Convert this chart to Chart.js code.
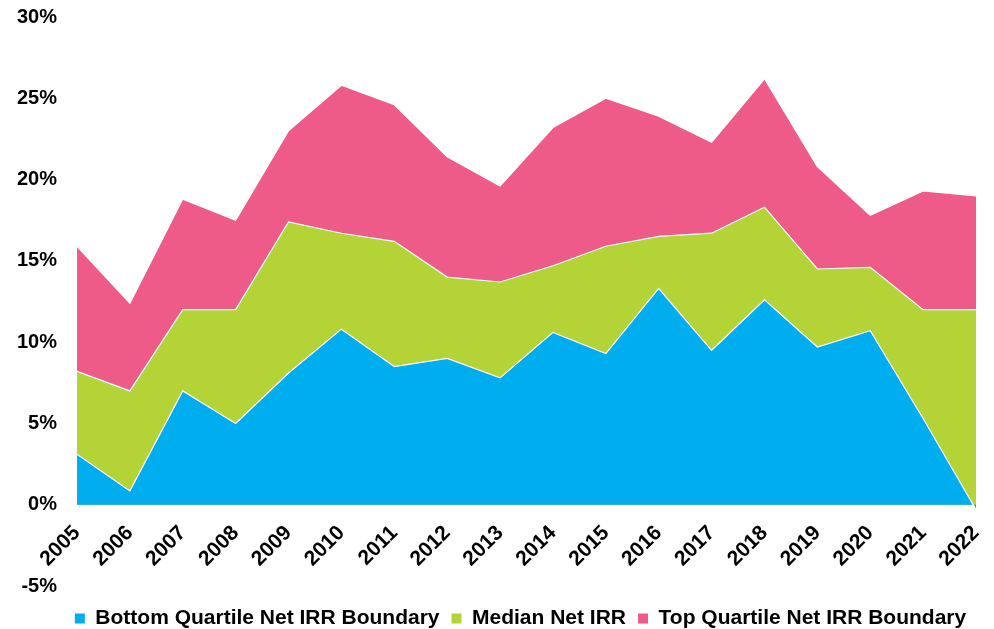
<!DOCTYPE html>
<html>
<head>
<meta charset="utf-8">
<script src="https://cdn.jsdelivr.net/npm/chart.js@4"></script>
<style>
  html, body { margin: 0; padding: 0; background: #fff; }
  #wrap { width: 994px; height: 629px; }
</style>
</head>
<body>
<div id="wrap"><canvas id="chart-irr"></canvas></div>
<script>
// ── Data ──────────────────────────────────────────────────────────────────
const VINTAGES = ['2005','2006','2007','2008','2009','2010','2011','2012','2013',
                  '2014','2015','2016','2017','2018','2019','2020','2021','2022'];

const BOTTOM_QUARTILE = [3.1, 0.85, 7.0, 5.0, 8.1, 10.8, 8.5, 9.0, 7.8,
                         10.6, 9.3, 13.3, 9.5, 12.6, 9.7, 10.7, 5.3, -0.3];
const MEDIAN_IRR      = [8.2, 7.0, 12.0, 12.0, 17.4, 16.7, 16.2, 14.0, 13.7,
                         14.7, 15.9, 16.5, 16.7, 18.3, 14.5, 14.6, 12.0, 12.0];
const TOP_QUARTILE    = [15.9, 12.4, 18.8, 17.5, 23.0, 25.8, 24.6, 21.4, 19.6,
                         23.2, 25.0, 23.9, 22.3, 26.2, 20.8, 17.8, 19.3, 19.0];

const Y_TICKS = [-5, 0, 5, 10, 15, 20, 25, 30];

// ── Theme ─────────────────────────────────────────────────────────────────
const BLUE  = '#00aeef';
const GREEN = '#b3d336';
const PINK  = '#ef5b89';
const FONT  = 'Arial, "Liberation Sans", sans-serif';

function area(label, data, color) {
  return {
    label,
    data,
    backgroundColor: color,
    borderColor: '#ffffff',
    borderWidth: 1.2,
    fill: 'origin',
    tension: 0,
    pointRadius: 0,
    pointHoverRadius: 0,
  };
}

// Legend sits a little lower than Chart.js puts it, centred under the plot
const legendNudge = {
  id: 'legendNudge',
  afterLayout(chart) {
    const lg = chart.legend;
    if (!lg) return;
    const dy = 10;
    const dx = (chart.chartArea.left + chart.chartArea.right) / 2 - (lg.left + lg.right) / 2 - 6;
    lg.top += dy; lg.bottom += dy;
    lg.left += dx; lg.right += dx;
  }
};

// ── Chart ─────────────────────────────────────────────────────────────────
new Chart(document.getElementById('chart-irr').getContext('2d'), {
  type: 'line',
  data: {
    labels: VINTAGES,
    datasets: [
      area('Bottom Quartile Net IRR Boundary', BOTTOM_QUARTILE, BLUE),
      area('Median Net IRR', MEDIAN_IRR, GREEN),
      area('Top Quartile Net IRR Boundary', TOP_QUARTILE, PINK),
    ]
  },
  plugins: [legendNudge],
  options: {
    responsive: true,
    maintainAspectRatio: false,
    animation: false,
    layout: { padding: { top: 17, right: 18, left: 0, bottom: 0 } },
    plugins: {
      tooltip: { enabled: false },
      legend: {
        position: 'bottom',
        labels: {
          boxWidth: 10,
          boxHeight: 10,
          padding: 12,
          color: '#000',
          font: { family: FONT, size: 21, weight: 'bold' },
          generateLabels: chart => chart.data.datasets.map((ds, i) => ({
            text: ds.label,
            fillStyle: ds.backgroundColor,
            strokeStyle: ds.backgroundColor,
            lineWidth: 0,
            datasetIndex: i,
            hidden: false,
          })),
        }
      }
    },
    scales: {
      x: {
        position: { y: 0 },
        offset: false,
        grid: { display: false, drawTicks: false },
        border: { display: false },
        afterFit: s => { s.paddingLeft = 0; s.paddingRight = 0; },
        ticks: {
          autoSkip: false,
          maxRotation: 45,
          minRotation: 45,
          padding: 16,
          color: '#000',
          font: { family: FONT, size: 21, weight: 'bold' },
        }
      },
      y: {
        min: -5,
        max: 30,
        grid: { display: false, drawTicks: false },
        border: { display: false },
        afterBuildTicks: axis => { axis.ticks = Y_TICKS.map(v => ({ value: v })); },
        afterFit: s => { s.width = 77; s.paddingTop = 0; s.paddingBottom = 0; },
        ticks: {
          padding: 20,
          color: '#000',
          font: { family: FONT, size: 20, weight: 'bold' },
          callback: v => v + '%',
        }
      }
    }
  }
});
</script>
</body>
</html>
